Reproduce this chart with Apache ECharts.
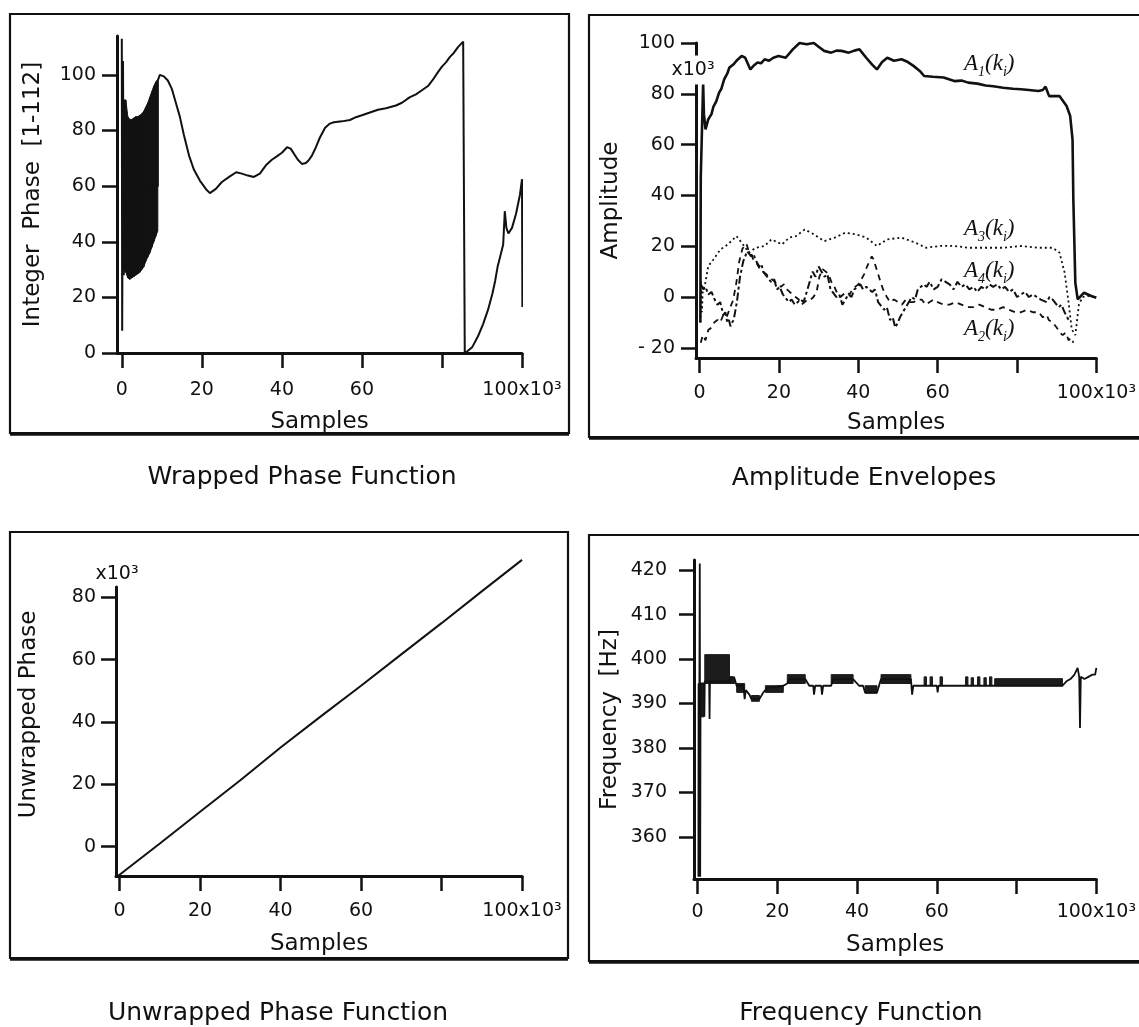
<!DOCTYPE html>
<html>
<head>
<meta charset="utf-8">
<title>Phase, amplitude and frequency functions</title>
<script src="https://cdn.jsdelivr.net/npm/echarts@6/dist/echarts.min.js"></script>
<style>
  html, body { margin: 0; padding: 0; background: #fff; }
  #chart { width: 1139px; height: 1027px; }
</style>
</head>
<body>
<div id="chart"></div>
<script>
// all x values are in thousands of samples (axis reads "x10^3")

// wrapped phase (integer phase 1-112)
const wrapX = [0, 0.1, 0.3, 0.5, 0.7, 9.0, 9.0, 9.5, 10.5, 11.5, 12.5, 13.5, 14.5, 15.5, 16.8, 18, 19.5, 21, 22, 23.5, 25, 27, 28.6, 30, 31.5, 33, 34.5, 36, 37.5, 39, 40, 41.3, 42.2, 43, 44, 45, 46, 46.7, 47.5, 48.5, 49.5, 50.8, 52, 53, 55, 57, 58.5, 60, 62, 64, 66, 68.5, 70, 72, 73.5, 75, 76.5, 77.6, 79, 80, 81, 82, 83, 84, 85.3, 85.6, 85.7, 86.5, 87.6, 89, 90.3, 91.5, 92.6, 93.3, 93.9, 94.6, 95.3, 95.7, 96.1, 96.6, 97.5, 98.5, 99.5, 100, 100.1];
const wrapY = [113, 8, 105, 28, 60, 60, 98, 100, 99.5, 98, 95, 90, 85, 78.5, 71, 66, 62, 59, 57.5, 59, 61.5, 63.5, 65, 64.5, 63.8, 63.3, 64.5, 67.5, 69.5, 71, 72, 74, 73.5, 71.7, 69.5, 68, 68.3, 69.3, 71, 74, 77.5, 81, 82.5, 83, 83.3, 83.8, 84.8, 85.5, 86.5, 87.5, 88, 89, 90, 92, 93, 94.5, 96, 98, 101, 103, 104.5, 106.5, 108, 110, 112, 112, 0, 0.8, 2.2, 6, 10.5, 15.5, 21.3, 26, 31, 35, 39, 51, 45, 43, 45, 50, 57, 62.5, 16.5];
// dense wrapping region at the start: upper / lower envelope
const wrapBandX = [0.5, 1, 1.5, 2, 2.5, 3, 3.5, 4, 4.5, 5, 5.5, 6, 6.5, 7, 7.5, 8, 8.5, 9];
const wrapBandHi = [91, 91, 85, 84, 84, 84.5, 85, 85, 85.5, 86, 87, 88.5, 90, 92, 94, 96, 97.5, 98.5];
const wrapBandLo = [30, 29, 27, 26.5, 27, 27.5, 28, 28.5, 29, 30, 31, 33, 34.5, 36, 38, 40, 42, 44];

// amplitude envelopes (x10^3)
const a1X = [0.2, 0.3, 0.9, 1.1, 1.5, 2.2, 3.0, 3.5, 4.2, 4.9, 5.5, 6.2, 7.0, 7.5, 8.5, 9.3, 10.6, 11.5, 12.8, 13.6, 14.6, 15.5, 16.4, 17.5, 18.6, 19.9, 21.7, 23.5, 25.2, 27, 28.8, 30, 31.4, 33.2, 34.5, 35.8, 37.6, 39, 40.3, 42, 43.5, 44.7, 46, 47.3, 49, 50.9, 52.5, 54, 55.5, 56.6, 58.8, 61.5, 64.2, 66, 67.7, 70, 72.1, 74, 76.5, 79, 81, 83, 85.4, 86.5, 87.2, 88.1, 90.7, 92.5, 93.4, 94, 94.2, 94.7, 95.3, 96.9, 98.7, 100];
const a1Y = [-10, 47, 84, 72, 66, 70, 72, 75, 77, 80.4, 82, 85.7, 88, 90.3, 91.5, 93, 94.9, 94.2, 89.6, 91, 92.3, 92, 93.6, 93, 94.2, 94.9, 94.2, 97.5, 100, 99.5, 100, 98.5, 96.9, 96.2, 97, 96.9, 96.2, 97, 97.5, 94.2, 91.5, 89.6, 92.5, 94.2, 93, 93.6, 92.5, 90.9, 89, 87, 86.7, 86.4, 85, 85.2, 84.4, 84, 83.3, 83, 82.4, 82, 81.8, 81.5, 81.1, 81.5, 82.8, 79.1, 79.1, 75.2, 71.3, 62, 38.5, 5.6, -0.9, 1.7, 0.4, -0.3];
const a3X = [0.2, 0.4, 0.6, 0.8, 1.3, 2.2, 3.5, 5.3, 6.6, 8, 9.3, 10.6, 12.4, 14.2, 16.4, 18.1, 20.8, 22.6, 24.3, 26.5, 28.8, 31.4, 34.1, 36.7, 39.4, 42, 44.7, 47.3, 50.9, 54.4, 57.1, 60.6, 64.2, 67.7, 72.1, 76.5, 81, 85.4, 89, 90.7, 92, 92.9, 93.8, 94.7, 95.6, 96.5, 97.8, 100];
const a3Y = [-10, 6, -6, 3, 4.3, 12.2, 14.8, 18.8, 20.1, 22, 24, 21.4, 17.5, 19.4, 20.1, 22.7, 20.7, 23.4, 24, 26.6, 24.7, 22, 23.4, 25.3, 24.7, 23.4, 20.1, 22.7, 23.4, 21.4, 19.4, 20.1, 20.1, 19.4, 19.4, 19.4, 20.1, 19.4, 19.4, 17.5, 9.6, -0.9, -12.7, -15, -3, 0, 0.4, 0];
const a4X = [0.3, 1, 1.5, 2.2, 3, 3.8, 4.5, 5.2, 6, 6.5, 7, 7.4, 7.8, 8.2, 8.6, 9.4, 10.2, 11, 12, 13, 13.6, 14, 15, 15.6, 16, 17, 18, 18.8, 19.5, 20.2, 21, 22.5, 23.2, 24, 25.5, 26.2, 27, 28.5, 29.2, 30, 31.5, 32.2, 33, 34.5, 35.2, 36, 37.5, 38.3, 39, 40.5, 41.2, 42, 43.5, 44.2, 45, 46.5, 47.2, 48, 48.7, 49.3, 50, 50.5, 51.2, 52, 53.5, 54.3, 55, 56.5, 57.2, 58, 59, 60, 61, 62, 63, 64, 65, 66, 67, 68, 69, 70, 71, 72, 73, 74, 75, 76, 77, 78, 79, 80, 81, 82, 83, 84, 85, 86, 87.5, 88.2, 89, 90.5, 91.2, 92, 93];
const a4Y = [5, 3, 4, 1, 2, -1, -3, -2, -7, -6, -10, -9, -11.5, -10, -9, -2, 8, 14, 18, 16, 17, 15, 12, 13, 10, 8, 6, 7, 3, 4, 1, -2, -1, -3, -1, -2, 2, 10, 8, 12, 8, 9, 3, 0, 1, -3, 1, 0, 3, 5, 3, 4, 2, 3, -2, -5, -4, -9, -8, -12, -10, -8, -6, -4, 0, -1, 3, 5, 4, 6, 3, 4, 7, 6, 5, 3, 6, 4, 5, 3, 4, 2, 4, 3, 5, 4, 5, 3, 4, 2, 3, 0, 1, 2, 0, 1, 0, -1, -2, 0, -1, -4, -3, -6, -9];
const a2X = [0.3, 0.8, 1.5, 2.2, 3, 3.7, 4.5, 5.2, 6, 6.8, 7.5, 8.5, 9.3, 10, 10.8, 11.8, 12.4, 13, 13.7, 14.5, 15.2, 16, 16.8, 17.5, 18.2, 19, 19.7, 20.5, 21.2, 22, 22.7, 23.5, 24.2, 25, 25.7, 26.5, 27.2, 28, 28.7, 29.5, 30.2, 31, 31.8, 32.5, 33.2, 34, 34.8, 35.5, 36.2, 37, 37.8, 38.5, 39.2, 40, 40.8, 41.5, 42.2, 42.8, 43.4, 43.8, 44.4, 45, 45.8, 46.5, 47.2, 48, 49, 50, 51, 52, 53, 54, 55, 56, 57, 58, 59, 60, 61.5, 63, 64.5, 66, 67.5, 69, 70.5, 72, 73.5, 75, 76.5, 78, 79.5, 81, 82.5, 84, 85.5, 86.5, 87.5, 88, 89, 90, 90.8, 91.5, 92.3, 93, 93.7, 94.2];
const a2Y = [-18, -15, -17, -13, -12, -10, -9, -10, -7, -8, -5, -1, 6, 14, 19, 21, 18, 17, 14, 13, 11, 10, 9, 8, 7, 6, 5, 4, 5, 3, 2, 1, 0, -1, -3, -2, -1, -1, 0, 2, 8, 11, 10, 9, 6, 4, 1, 0, 1, 2, 1, 3, 4, 5, 7, 9, 12, 14, 16, 15, 12, 9, 5, 2, 0, -2, -1, -2, -3, -1, -2, -2, -1, -1, -3, -2, -1, -2, -3, -3, -2, -3, -4, -4, -3, -4, -5, -5, -4, -5, -6, -6, -5, -6, -6, -8, -7, -9, -10, -12, -14, -15, -14, -17, -16, -18];

// unwrapped phase (x10^3)
const unwrapX = [-0.5, 10, 20, 30, 40, 50, 60, 70, 80, 90, 100];
const unwrapY = [-9.5, 1, 11.2, 21.3, 31.8, 41.8, 51.6, 61.7, 71.7, 81.9, 92];

// frequency [Hz]
const freqX = [0.2, 0.25, 0.35, 0.45, 0.55, 0.65, 0.75, 1.6, 1.7, 1.8, 2.9, 3.0, 3.1, 8.0, 8.4, 9.3, 9.8, 11.5, 11.8, 12.1, 13, 13.5, 15.5, 16.5, 17.5, 21.5, 22.5, 23, 27, 28, 29, 29.2, 29.5, 31, 31.2, 31.5, 33.5, 34, 39, 40.5, 41.5, 42, 45, 45.5, 46, 53.5, 53.8, 54.1, 60, 60.2, 60.4, 91.5, 92.5, 93.5, 94.5, 95.3, 95.7, 95.9, 96.1, 97, 98, 99, 99.7, 100];
const freqY = [351, 394.5, 373, 394.5, 421.5, 351, 394.5, 394.5, 387, 395, 395, 386.5, 395, 395, 396, 395.5, 394, 394, 391, 393, 392, 391, 391, 392.5, 393.5, 394, 394.5, 395.5, 395.5, 394, 394, 392, 394, 394, 392, 394, 394, 395.5, 395.5, 394, 394, 392.5, 392.5, 394, 395.5, 395.5, 392, 394, 394, 392.5, 394, 394, 395, 395.5, 396.5, 398, 396, 384.5, 396, 395.5, 396, 396.5, 396.5, 398];
// regions where the estimate toggles fast between two levels
const freqBandStart = [0.3, 1.8, 8.0, 9.8, 13.5, 17, 22.5, 33.5, 42, 46, 56.8, 58.3, 60.8, 67.2, 68.6, 70.2, 71.8, 73.2, 74.5];
const freqBandEnd = [1.6, 8.0, 9.3, 11.8, 15.5, 21.5, 27, 39, 45, 53.5, 57.4, 58.9, 61.4, 67.8, 69.2, 70.8, 72.4, 73.8, 91.5];
const freqBandLo = [387, 394.5, 394.5, 392.5, 390.5, 392.5, 394.5, 394.5, 392.3, 394.5, 394, 394, 394, 394, 394, 394, 394, 394, 394];
const freqBandHi = [394.5, 401, 396, 394.5, 391.8, 394, 396.5, 396.5, 394, 396.5, 396, 396, 396, 396, 395.8, 396, 395.8, 396, 395.6];

// ticks
const xTicks = [0, 20, 40, 60, 80, 100];
const xTickLabels = [0, 20, 40, 60, 100];
const wrapTicks = [0, 20, 40, 60, 80, 100];
const ampTicks = [-20, 0, 20, 40, 60, 80, 100];
const unwrapTicks = [0, 20, 40, 60, 80];
const freqTicks = [360, 370, 380, 390, 400, 410, 420];

const INK = '#111';
const SANS = 'DejaVu Sans';
const SERIF = 'Liberation Serif';

const zip = (xs, ys) => xs.map((x, i) => [x, ys[i]]);

function xAxisFor(grid, min, margin, gap) {
    return {
        type: 'value', gridIndex: grid, min: min, max: 100,
        name: 'Samples', nameLocation: 'middle', nameGap: gap,
        nameTextStyle: { fontSize: 23, fontFamily: SANS, color: INK },
        axisLine: { onZero: false, lineStyle: { color: INK, width: 3 } },
        axisTick: { customValues: xTicks, length: 15, lineStyle: { color: INK, width: 2.5 } },
        axisLabel: {
            customValues: xTickLabels, margin: margin, fontSize: 19, fontFamily: SANS, color: INK,
            formatter: v => v === 100 ? '100x10³' : String(v)
        },
        splitLine: { show: false }
    };
}

function yAxisFor(grid, o) {
    return {
        type: 'value', gridIndex: grid, min: o.min, max: o.max,
        name: o.name, nameLocation: 'middle', nameRotate: 90, nameGap: o.gap,
        nameTextStyle: { fontSize: 23, fontFamily: SANS, color: INK, padding: o.pad || 0 },
        axisLine: { onZero: false, lineStyle: { color: INK, width: 3 } },
        axisTick: { customValues: o.ticks, length: 15, lineStyle: { color: INK, width: 2.5 } },
        axisLabel: {
            customValues: o.ticks, margin: o.margin, fontSize: 19, fontFamily: SANS, color: INK,
            formatter: v => v < 0 ? '- ' + Math.abs(v) : String(v)
        },
        splitLine: { show: false }
    };
}

function line(axis, data, width, type) {
    return {
        type: 'line', xAxisIndex: axis, yAxisIndex: axis, data: data,
        symbol: 'none', clip: false,
        lineStyle: { color: INK, width: width, type: type || 'solid' }
    };
}

// label "A_n(k_i)" placed at a data coordinate
const labelRich = {
    a: { fontFamily: SERIF, fontStyle: 'italic', fontSize: 23, lineHeight: 30, color: INK },
    s: { fontFamily: SERIF, fontStyle: 'italic', fontSize: 14, lineHeight: 15, verticalAlign: 'bottom', color: INK }
};
function ampLabel(n, coord) {
    return {
        symbol: 'rect', symbolSize: 1, itemStyle: { color: 'rgba(0,0,0,0)' },
        label: {
            show: true, position: 'inside',
            formatter: '{a|A}{s|' + n + '}{a|(k}{s|i}{a|)}', rich: labelRich
        },
        data: [{ coord: coord }]
    };
}

function box(x, y, w, h) {
    return [
        { type: 'rect', z: 1, silent: true, shape: { x: x, y: y, width: w, height: h },
          style: { fill: 'none', stroke: INK, lineWidth: 2.2 } },
        { type: 'line', z: 1, silent: true, shape: { x1: x, y1: y + h + 1, x2: x + w, y2: y + h + 1 },
          style: { stroke: INK, lineWidth: 3.5 } }
    ];
}
function caption(text, x, y) {
    return { type: 'text', z: 1, silent: true, x: x, y: y,
             style: { text: text, fontSize: 25, fontFamily: SANS, fill: INK, align: 'center', verticalAlign: 'middle' } };
}
function times3(x, y, bg) {
    return { type: 'text', z: 100, silent: true, x: x, y: y,
             style: { text: 'x10³', fontSize: 19, fontFamily: SANS, fill: INK, align: 'center', verticalAlign: 'middle',
                      backgroundColor: bg ? '#fff' : 'transparent', padding: [5, 1] } };
}

const myChart = echarts.init(document.getElementById('chart'));

const option = {
    backgroundColor: '#fff',
    animation: false,
    grid: [
        { left: 117, top: 36, width: 405, height: 317 },
        { left: 696, top: 43, width: 406, height: 315 },
        { left: 116, top: 587, width: 406, height: 289 },
        { left: 694, top: 560, width: 406, height: 319 }
    ],
    xAxis: [
        xAxisFor(0, -1.2, 28, 58),
        xAxisFor(1, -0.9, 26, 54),
        xAxisFor(2, -0.9, 26, 57),
        xAxisFor(3, -0.9, 24, 55)
    ],
    yAxis: [
        yAxisFor(0, { min: 0, max: 114, ticks: wrapTicks, name: 'Integer  Phase  [1-112]', gap: 72, margin: 21 }),
        yAxisFor(1, { min: -24, max: 100, ticks: ampTicks, name: 'Amplitude', gap: 73, margin: 21 }),
        yAxisFor(2, { min: -9.4, max: 83.3, ticks: unwrapTicks, name: 'Unwrapped Phase', gap: 75, margin: 20, pad: [0, 0, 0, 34] }),
        yAxisFor(3, { min: 350.5, max: 422.3, ticks: freqTicks, name: 'Frequency  [Hz]', gap: 72, margin: 27 })
    ],
    series: [
        // dense region of the wrapped phase, drawn between its envelopes
        {
            type: 'custom', xAxisIndex: 0, yAxisIndex: 0,
            data: wrapBandX.map((x, i) => [x, wrapBandLo[i], wrapBandHi[i]]),
            encode: { x: 0, y: [1, 2] },
            renderItem: function (params, api) {
                const i = params.dataIndexInside;
                if (i >= wrapBandX.length - 1) return;
                const pts = [
                    api.coord([api.value(0, i), api.value(1, i)]),
                    api.coord([api.value(0, i + 1), api.value(1, i + 1)]),
                    api.coord([api.value(0, i + 1), api.value(2, i + 1)]),
                    api.coord([api.value(0, i), api.value(2, i)])
                ];
                return { type: 'polygon', shape: { points: pts }, style: { fill: INK, stroke: INK, lineWidth: 1 } };
            }
        },
        line(0, zip(wrapX, wrapY), 2),

        Object.assign(line(1, zip(a1X, a1Y), 2.6), { markPoint: ampLabel(1, [73, 91.7]) }),
        Object.assign(line(1, zip(a3X, a3Y), 1.8, [2, 3]), { markPoint: ampLabel(3, [73, 26.8]) }),
        Object.assign(line(1, zip(a4X, a4Y), 2, [8, 3, 3, 3]), { markPoint: ampLabel(4, [73, 10.2]) }),
        Object.assign(line(1, zip(a2X, a2Y), 1.8, [6, 5]), { markPoint: ampLabel(2, [73, -12.6]) }),

        line(2, zip(unwrapX, unwrapY), 2),

        {
            type: 'custom', xAxisIndex: 3, yAxisIndex: 3,
            data: freqBandStart.map((x, i) => [x, freqBandEnd[i], freqBandLo[i], freqBandHi[i]]),
            encode: { x: [0, 1], y: [2, 3] },
            renderItem: function (params, api) {
                const p0 = api.coord([api.value(0), api.value(3)]);
                const p1 = api.coord([api.value(1), api.value(2)]);
                return { type: 'rect', shape: { x: p0[0], y: p0[1], width: p1[0] - p0[0], height: p1[1] - p0[1] },
                         style: { fill: '#1c1c1c', stroke: '#1c1c1c', lineWidth: 1 } };
            }
        },
        line(3, zip(freqX, freqY), 1.8)
    ],
    graphic: [].concat(
        box(10, 14, 559, 419),
        box(589, 15, 560, 422),
        box(10, 532, 558, 426),
        box(589, 535, 560, 426),
        [
            caption('Wrapped Phase Function', 302, 477),
            caption('Amplitude Envelopes', 864, 478),
            caption('Unwrapped Phase Function', 278, 1013),
            caption('Frequency Function', 861, 1013),
            times3(693, 70, true),
            times3(117, 574, false)
        ]
    )
};

myChart.setOption(option);
</script>
</body>
</html>
